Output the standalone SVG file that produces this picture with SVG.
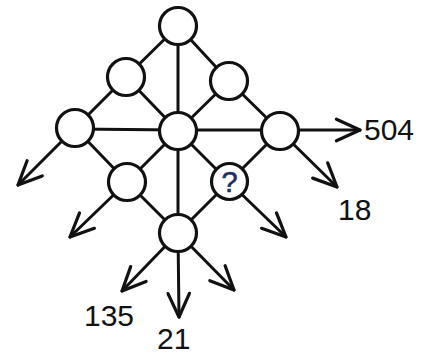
<svg xmlns="http://www.w3.org/2000/svg" width="431" height="356" viewBox="0 0 431 356">
  <style>
    .edge { stroke: #111; stroke-width: 3; fill: none; stroke-linecap: round; }
    .arrow { stroke: #111; stroke-width: 3; fill: none; stroke-linecap: round; marker-end: url(#head); }
    .node circle { fill: #fff; stroke: #111; stroke-width: 3.2; }
    .num { font-family: "Liberation Sans", Arial, sans-serif; font-size: 30px; fill: #111; }
    .mark { font-family: "Liberation Sans", Arial, sans-serif; font-size: 29px; fill: #1f2d62; stroke: #1f2d62; stroke-width: 0.6; text-anchor: middle; }
  </style>
  <defs>
    <marker id="head" markerUnits="userSpaceOnUse" markerWidth="30" markerHeight="30" viewBox="-25 -13 28 26" refX="0" refY="0" orient="auto" overflow="visible">
      <path d="M-22,-10 L0,0 L-22,10" fill="none" stroke="#111" stroke-width="3" stroke-linecap="round" stroke-linejoin="round"/>
    </marker>
  </defs>
  <rect width="431" height="356" fill="#fff"/>

  <!-- links between the nodes and outgoing arrows -->
  <g id="connectors">
    <line class="edge" x1="178" y1="26" x2="126" y2="77"/>
    <line class="edge" x1="178" y1="26" x2="229" y2="81"/>
    <line class="edge" x1="178" y1="26" x2="178" y2="131"/>
    <line class="edge" x1="126" y1="77" x2="75" y2="128"/>
    <line class="edge" x1="126" y1="77" x2="178" y2="131"/>
    <line class="edge" x1="229" y1="81" x2="178" y2="131"/>
    <line class="edge" x1="229" y1="81" x2="280" y2="131"/>
    <line class="edge" x1="75" y1="129" x2="178" y2="130"/>
    <line class="edge" x1="178" y1="130" x2="280" y2="130"/>
    <line class="edge" x1="75" y1="128" x2="127" y2="182"/>
    <line class="edge" x1="178" y1="131" x2="127" y2="182"/>
    <line class="edge" x1="178" y1="131" x2="229" y2="182"/>
    <line class="edge" x1="280" y1="131" x2="229" y2="182"/>
    <line class="edge" x1="178" y1="131" x2="178" y2="233"/>
    <line class="edge" x1="127" y1="182" x2="178" y2="233"/>
    <line class="edge" x1="229" y1="182" x2="178" y2="233"/>

    <line class="arrow" x1="75" y1="128" x2="18" y2="185"/>
    <line class="arrow" x1="127" y1="182" x2="70" y2="237"/>
    <line class="arrow" x1="280" y1="130" x2="360" y2="130"/>
    <line class="arrow" x1="280" y1="131" x2="337" y2="187"/>
    <line class="arrow" x1="229" y1="182" x2="286" y2="237"/>
    <line class="arrow" x1="178" y1="233" x2="122" y2="291"/>
    <line class="arrow" x1="178" y1="233" x2="179" y2="317"/>
    <line class="arrow" x1="178" y1="233" x2="234" y2="290"/>
  </g>

  <g id="n-top" class="node"><circle cx="178" cy="26" r="18.5"/></g>
  <g id="n-upper-left" class="node"><circle cx="126" cy="77" r="18.5"/></g>
  <g id="n-upper-right" class="node"><circle cx="229" cy="81" r="18.5"/></g>
  <g id="n-left" class="node"><circle cx="75" cy="128" r="18.5"/></g>
  <g id="n-center" class="node"><circle cx="178" cy="131" r="18.5"/></g>
  <g id="n-right" class="node"><circle cx="280" cy="131" r="18.5"/></g>
  <g id="n-lower-left" class="node"><circle cx="127" cy="182" r="18.5"/></g>
  <g id="n-unknown" class="node">
    <circle cx="229.5" cy="181.5" r="18"/>
    <text class="mark" x="229.5" y="192">?</text>
  </g>
  <g id="n-bottom" class="node"><circle cx="178" cy="233" r="18.5"/></g>

  <g id="labels">
    <text class="num" x="364" y="140">504</text>
    <text class="num" x="338" y="220">18</text>
    <text class="num" x="84" y="326">135</text>
    <text class="num" x="157" y="349">21</text>
  </g>
</svg>
